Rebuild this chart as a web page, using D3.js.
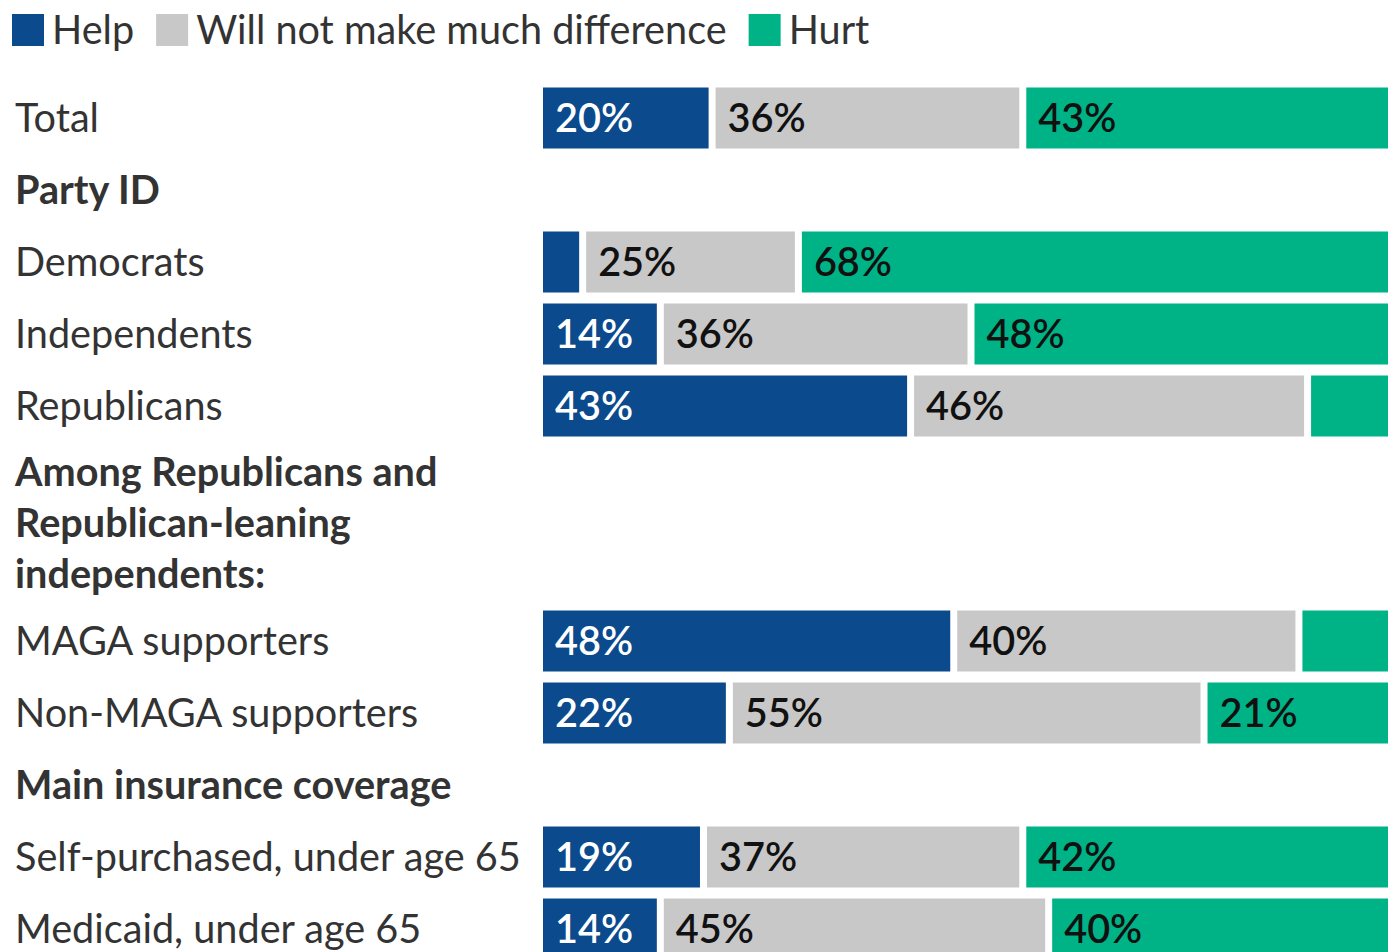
<!DOCTYPE html>
<html>
<head>
<meta charset="utf-8">
<script src="https://cdn.jsdelivr.net/npm/d3@7"></script>
<style>
  html, body { margin: 0; padding: 0; background: #fff; }
  svg { display: block; }
  text { font-family: Lato, "Source Sans Pro", "Noto Sans", sans-serif; }
</style>
</head>
<body>
<script>
// ---- data ----
const seriesNames = ["Help", "Will not make much difference", "Hurt"];
const seriesColors = ["#0b4a8c", "#c8c8c8", "#00b386"];
const rowLabels = ["Total", "Party ID", "Democrats", "Independents", "Republicans",
  "Among Republicans and|Republican-leaning|independents:",
  "MAGA supporters", "Non-MAGA supporters", "Main insurance coverage",
  "Self-purchased, under age 65", "Medicaid, under age 65"];
const rowIsHeader = [false, true, false, false, false, true, false, false, true, false, false];
const helpValues    = [20, null, 5, 14, 43, null, 48, 22, null, 19, 14];
const neutralValues = [36, null, 25, 36, 46, null, 40, 55, null, 37, 45];
const hurtValues    = [43, null, 68, 48, 10, null, 11, 21, null, 42, 40];

const W = 1388, H = 952;
const svg = d3.select("body").append("svg").attr("width", W).attr("height", H);

const x = d3.scaleLinear().domain([0, 100]).range([543, 1406]);
const gap = 7, barH = 61, rowH = 72, lineH = 51;
const labelX = 15;

// fit font size to the reference label width
const probe = svg.append("text").attr("font-size", 100).text("Self-purchased, under age 65");
const w100 = probe.node().getComputedTextLength();
probe.remove();
const fs = 100 * 506 / w100;

// ---- legend ----
const legend = svg.append("g");
let lx = 12;
seriesNames.forEach((name, i) => {
  legend.append("rect").attr("x", lx).attr("y", 14).attr("width", 32).attr("height", 32)
    .attr("fill", seriesColors[i]);
  const t = legend.append("text").attr("x", lx + 40).attr("y", 44)
    .attr("font-size", fs).attr("fill", "#333").text(name);
  lx += 40 + t.node().getComputedTextLength() + 22;
});

// ---- rows ----
let yCursor = 82;
const rows = rowLabels.map((lab, i) => {
  const lines = lab.split("|");
  const h = lines.length > 1 ? rowH + (lines.length - 1) * lineH - 11 : rowH;
  const r = { label: lab, lines, header: rowIsHeader[i], y0: yCursor, h,
    vals: [helpValues[i], neutralValues[i], hurtValues[i]] };
  yCursor += h;
  return r;
});

const defs = svg.append("defs");
defs.append("clipPath").attr("id", "clip").append("rect")
  .attr("x", 0).attr("y", 0).attr("width", W).attr("height", H);

const g = svg.append("g").attr("clip-path", "url(#clip)");

rows.forEach(r => {
  if (r.header) {
    r.lines.forEach((ln, k) => {
      const cy = r.lines.length > 1 ? r.y0 + 30 + k * lineH : r.y0 + r.h / 2;
      g.append("text").attr("x", labelX).attr("y", cy).attr("dy", "0.36em")
        .attr("font-size", fs).attr("font-weight", 700).attr("fill", "#333").text(ln);
    });
    return;
  }
  const cy = r.y0 + rowH / 2;
  g.append("text").attr("x", labelX).attr("y", cy).attr("dy", "0.36em")
    .attr("font-size", fs).attr("fill", "#333").text(r.label);
  let cum = 0;
  r.vals.forEach((v, si) => {
    const last = si === r.vals.length - 1;
    const x0 = x(cum), x1 = last ? x(100) : x(cum + v) - gap;
    g.append("rect").attr("x", x0).attr("y", cy - barH / 2)
      .attr("width", Math.max(0, x1 - x0)).attr("height", barH)
      .attr("fill", seriesColors[si]);
    if (v >= 12) {
      g.append("text").attr("x", x0 + 12).attr("y", cy).attr("dy", "0.36em")
        .attr("font-size", fs).attr("font-weight", 600)
        .attr("fill", si === 0 ? "#fff" : "#111").text(v + "%");
    }
    cum += v;
  });
});
</script>
</body>
</html>
